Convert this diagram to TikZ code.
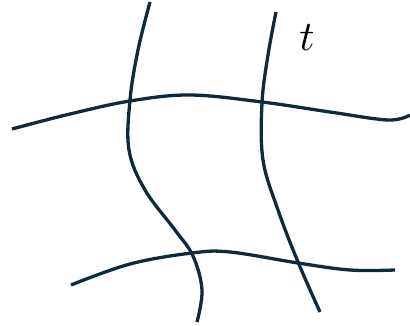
\documentclass[tikz,border=0pt]{standalone}
\definecolor{ink}{HTML}{0F2A3A}
\begin{document}
\begin{tikzpicture}[x=1pt,y=-1pt,
  curve/.style={draw=ink,line width=3.3pt,line cap=butt}]
\useasboundingbox (0,0) rectangle (410,326);
% top horizontal
\draw[curve] plot[smooth,tension=0.6] coordinates {(12,129) (70,114) (130,101) (190,95) (262,102) (330,112) (388,120) (410,115)};
% left vertical
\draw[curve] plot[smooth,tension=0.6] coordinates {(150,2) (138,50) (130,100) (129,150) (145,190) (175,230) (193,256) (202,290) (197,322)};
% right vertical
\draw[curve] plot[smooth,tension=0.6] coordinates {(276,12) (268,55) (262,103) (263,160) (278,210) (298,262) (320,312)};
% bottom horizontal
\draw[curve] plot[smooth,tension=0.6] coordinates {(71,285) (130,264) (192,253) (230,252) (298,263) (350,270) (395,270)};
\node (t) at (307,38) {\scalebox{4.2}{$t$}};
\end{tikzpicture}
\end{document}
